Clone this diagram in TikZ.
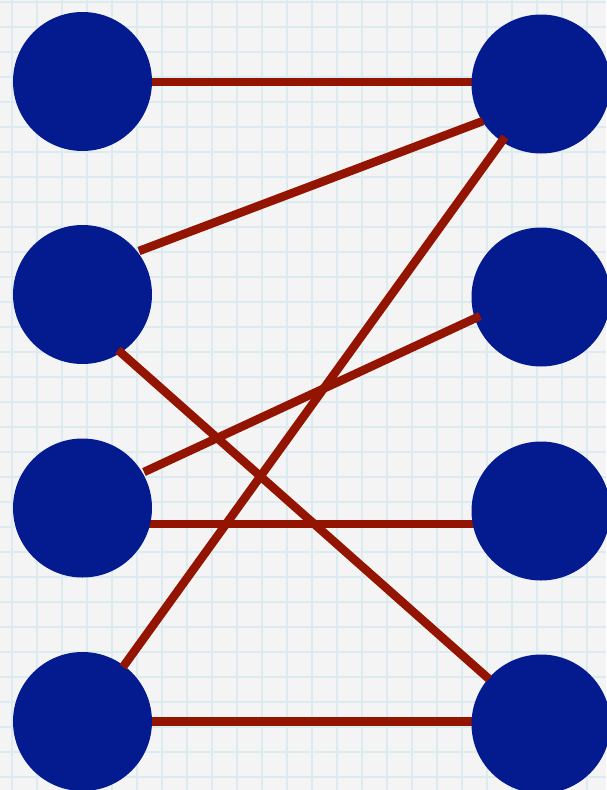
\documentclass[tikz,border=0pt]{standalone}
\definecolor{paper}{HTML}{F4F4F4}
\definecolor{gridblue}{HTML}{DCEBF0}
\definecolor{dotblue}{HTML}{041B90}
\definecolor{linkred}{HTML}{931400}
\tikzset{
  dot/.style={circle, fill=dotblue, draw=none, minimum size=139pt, inner sep=0pt},
  link/.style={draw=linkred, line width=8.5pt, line cap=butt},
}
\begin{document}
\begin{tikzpicture}[x=1pt,y=-1pt]
\useasboundingbox (0,0) rectangle (606,790);
\fill[paper] (0,0) rectangle (606,790);
\foreach \gx in {12,37,...,606} \draw[gridblue, line width=1.4pt] (\gx,0) -- (\gx,790);
\foreach \gy in {2,27,...,790} \draw[gridblue, line width=1.4pt] (0,\gy) -- (606,\gy);
% horizontal links drawn beneath circles
\coordinate (h1a) at (82,82);  \coordinate (h1b) at (541,82);
\coordinate (h3a) at (82,524); \coordinate (h3b) at (541,524);
\coordinate (h4a) at (82,721.5); \coordinate (h4b) at (541,721.5);
\draw[link] (h1a) -- (h1b);
\draw[link] (h3a) -- (h3b);
\draw[link] (h4a) -- (h4b);
% circles
\node[dot] (L1) at (82.5,81.5) {};
\node[dot] (L2) at (82.5,294.5) {};
\node[dot] (L3) at (82.5,508) {};
\node[dot] (L4) at (82.5,721.5) {};
\node[dot] (R1) at (541,84) {};
\node[dot] (R2) at (541,297) {};
\node[dot] (R3) at (541,511) {};
\node[dot] (R4) at (541,724) {};
% diagonal link end points
\coordinate (a21) at (139,251);   \coordinate (b21) at (483,121);
\coordinate (a24) at (118,350);   \coordinate (b24) at (489,679);
\coordinate (a32) at (144,472);   \coordinate (b32) at (480,316);
\coordinate (a41) at (123,667);   \coordinate (b41) at (505,137);
\draw[link] (a21) -- (b21);
\draw[link] (a24) -- (b24);
\draw[link] (a32) -- (b32);
\draw[link] (a41) -- (b41);
\end{tikzpicture}
\end{document}
